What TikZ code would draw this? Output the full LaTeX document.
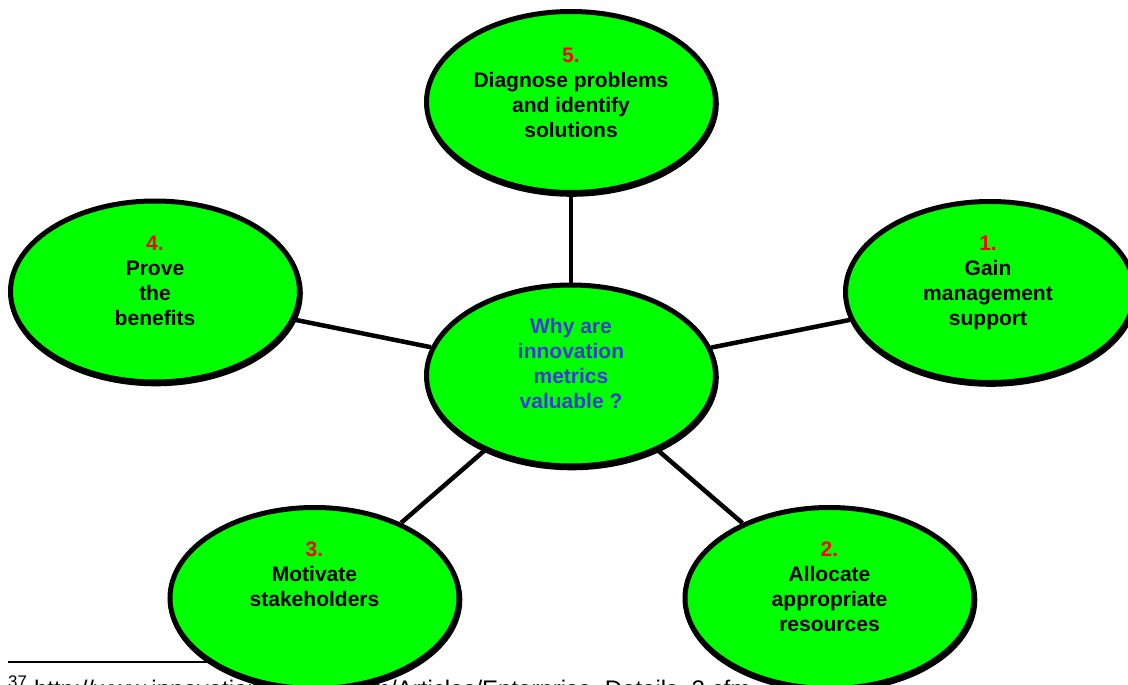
\documentclass[tikz,border=0pt]{standalone}
\usepackage{fontspec}
\setmainfont{Liberation Sans}
\usetikzlibrary{shapes.geometric,shadows}
\definecolor{bubblegreen}{RGB}{0,255,0}
\definecolor{numred}{RGB}{255,0,0}
\definecolor{qblue}{RGB}{60,60,210}
\pgfdeclarelayer{background}
\pgfsetlayers{background,main}
\begin{document}
\begin{tikzpicture}[x=1pt,y=-1pt,
  bubble/.style={ellipse, draw=black, fill=bubblegreen, line width=5pt,
    minimum width=289pt, minimum height=181pt, inner sep=0pt,
    drop shadow={shadow xshift=0.8pt, shadow yshift=-1.8pt, fill=black, draw=black, line width=5pt, opacity=1}},
  link/.style={line width=4.5pt},
  caption/.style={anchor=north, align=center, inner sep=0pt,
    font=\fontsize{21}{25}\selectfont\bfseries},
  footrule/.style={line width=1.4pt},
]
\useasboundingbox (0,0) rectangle (1128,685);
\clip (0,0) rectangle (1128,685);

% footnote (mostly hidden by the bubbles and the page edge)
\coordinate (fr1) at (8,662);
\coordinate (fr2) at (215,662);
\draw[footrule] (fr1) -- (fr2);
\node (fn) [anchor=base west, inner sep=0pt, font=\fontsize{24}{28}\selectfont]
  at (8,697) {\textsuperscript{37} http://www.innovationmetrics.com/Articles/Enterprise\_Details\_2.cfm};

% bubbles
\node (c)  [bubble] at (571,375.5) {};
\node (n5) [bubble] at (571,102) {};
\node (n4) [bubble] at (155,291.5) {};
\node (n1) [bubble] at (990,292) {};
\node (n3) [bubble] at (314.5,598) {};
\node (n2) [bubble] at (829.5,598) {};

% connectors
\begin{pgfonlayer}{background}
\draw[link] (c) -- (n5);
\draw[link] (c) -- (n4);
\draw[link] (c) -- (n1);
\draw[link] (c) -- (n3);
\draw[link] (c) -- (n2);
\end{pgfonlayer}

% texts
\node (tc) [caption, text=qblue] at (571,318.5) {Why are\\innovation\\metrics\\valuable ?};
\node (t5) [caption] at (571,47.5) {{\color{numred}5.}\\Diagnose problems\\and identify\\solutions};
\node (t4) [caption] at (155,235.5) {{\color{numred}4.}\\Prove\\the\\benefits};
\node (t1) [caption] at (988,235.5) {{\color{numred}1.}\\Gain\\management\\support};
\node (t3) [caption] at (314.5,541.5) {{\color{numred}3.}\\Motivate\\stakeholders};
\node (t2) [caption] at (829.5,541.5) {{\color{numred}2.}\\Allocate\\appropriate\\resources};
\end{tikzpicture}
\end{document}
